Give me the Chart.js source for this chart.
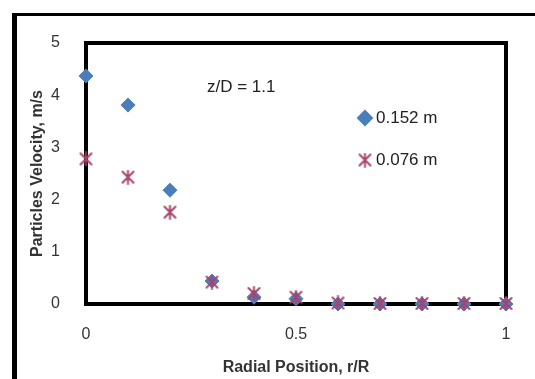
<!DOCTYPE html>
<html>
<head>
<meta charset="utf-8">
<script src="https://cdn.jsdelivr.net/npm/chart.js@4.4.0/dist/chart.umd.min.js"></script>
<style>
    html, body { margin: 0; padding: 0; background: #fff; }
    #wrap { position: relative; width: 535px; height: 379px; overflow: hidden; }
    #frame {
        position: absolute; left: 12px; top: 13px; width: 600px; height: 400px;
        border-left: 5px solid #000; border-top: 3px solid #000;
    }
    #velocityChart { position: absolute; left: 0; top: 0; }
</style>
</head>
<body>
<div id="wrap">
    <div id="frame"></div>
    <canvas id="velocityChart" width="535" height="379"></canvas>
</div>
<script>
// radial positions r/R
const radialPos = [0, 0.1, 0.2, 0.3, 0.4, 0.5, 0.6, 0.7, 0.8, 0.9, 1.0];
// particle velocity (m/s) for the two heights
const vel152 = [4.37, 3.81, 2.18, 0.44, 0.13, 0.10, 0, 0, 0, 0, 0];
const vel076 = [2.78, 2.43, 1.76, 0.42, 0.20, 0.13, 0.02, 0.01, 0.01, 0.01, 0.01];
const seriesLabels = ['0.152 m', '0.076 m'];
const yTicks = [0, 1, 2, 3, 4, 5];
const xTicks = [0, 0.5, 1];

const FONT = "'Liberation Sans', Arial, sans-serif";
const STAR_COLOR = '#a8436b';

const toPoints = (ys) => radialPos.map((x, i) => ({ x: x, y: ys[i] }));

// asterisk marker: an X with a vertical bar through it
function makeStar(color) {
    const c = document.createElement('canvas');
    c.width = 15;
    c.height = 15;
    const g = c.getContext('2d');
    g.strokeStyle = color;
    g.lineWidth = 2;
    g.lineCap = 'round';
    g.beginPath();
    g.moveTo(2, 2); g.lineTo(13, 13);
    g.moveTo(13, 2); g.lineTo(2, 13);
    g.moveTo(7.5, 1); g.lineTo(7.5, 14);
    g.stroke();
    return c;
}
const starMarker = makeStar(STAR_COLOR);

// thick black box around the plot area, drawn under the markers
const plotBox = {
    id: 'plotBox',
    beforeDatasetsDraw(chart) {
        const { ctx, chartArea: a } = chart;
        ctx.save();
        ctx.strokeStyle = '#000';
        ctx.lineWidth = 4;
        ctx.strokeRect(a.left, a.top, a.right - a.left, a.bottom - a.top);
        ctx.restore();
    }
};

// z/D note and the legend floating inside the plot
const notes = {
    id: 'notes',
    afterDatasetsDraw(chart) {
        const ctx = chart.ctx;
        ctx.save();
        ctx.fillStyle = '#222';
        ctx.font = '17px ' + FONT;
        ctx.textBaseline = 'middle';
        ctx.textAlign = 'left';
        ctx.fillText('z/D = 1.1', 207, 87);

        const lx = 365, ly = 118, gap = 42;
        chart.data.datasets.forEach((ds, i) => {
            const y = ly + i * gap;
            ctx.fillStyle = ds.backgroundColor;
            ctx.strokeStyle = ds.borderColor;
            Chart.helpers.drawPoint(ctx, {
                pointStyle: ds.pointStyle,
                radius: ds.pointRadius,
                borderWidth: ds.borderWidth,
                rotation: 0
            }, lx, y);
            ctx.fillStyle = '#222';
            ctx.fillText(ds.label, lx + 11, y);
        });
        ctx.restore();
    }
};

new Chart(document.getElementById('velocityChart'), {
    type: 'scatter',
    data: {
        datasets: [{
            label: seriesLabels[0],
            data: toPoints(vel152),
            pointStyle: 'rectRot',
            pointRadius: 7,
            backgroundColor: '#4a7ebb',
            borderColor: '#4a7ebb',
            borderWidth: 1,
            order: 2,
            clip: false
        }, {
            label: seriesLabels[1],
            data: toPoints(vel076),
            pointStyle: starMarker,
            pointRadius: 7,
            backgroundColor: STAR_COLOR,
            borderColor: STAR_COLOR,
            borderWidth: 2,
            order: 1,
            clip: false
        }]
    },
    options: {
        responsive: false,
        animation: false,
        layout: { padding: { left: 0, top: 43, right: 29, bottom: 0 } },
        plugins: {
            legend: { display: false },
            tooltip: { enabled: false }
        },
        scales: {
            x: {
                type: 'linear',
                min: 0,
                max: 1,
                afterFit: (s) => { s.height = 75; },
                afterBuildTicks: (s) => { s.ticks = xTicks.map(v => ({ value: v })); },
                grid: { display: false },
                border: { display: false },
                ticks: {
                    padding: 13,
                    color: '#333',
                    font: { family: FONT, size: 16 },
                    callback: (v) => String(v)
                },
                title: {
                    display: true,
                    text: 'Radial Position, r/R',
                    color: '#333',
                    font: { family: FONT, size: 16, weight: 'bold' },
                    padding: { top: 0, bottom: 2 }
                }
            },
            y: {
                min: 0,
                max: 5,
                afterFit: (s) => { s.width = 86; },
                afterBuildTicks: (s) => { s.ticks = yTicks.map(v => ({ value: v })); },
                grid: { display: false },
                border: { display: false },
                ticks: {
                    padding: 18,
                    color: '#333',
                    font: { family: FONT, size: 16 }
                },
                title: {
                    display: true,
                    text: 'Particles Velocity, m/s',
                    color: '#333',
                    font: { family: FONT, size: 16, weight: 'bold' },
                    padding: { top: 28, bottom: 0 }
                }
            }
        }
    },
    plugins: [plotBox, notes]
});
</script>
</body>
</html>
